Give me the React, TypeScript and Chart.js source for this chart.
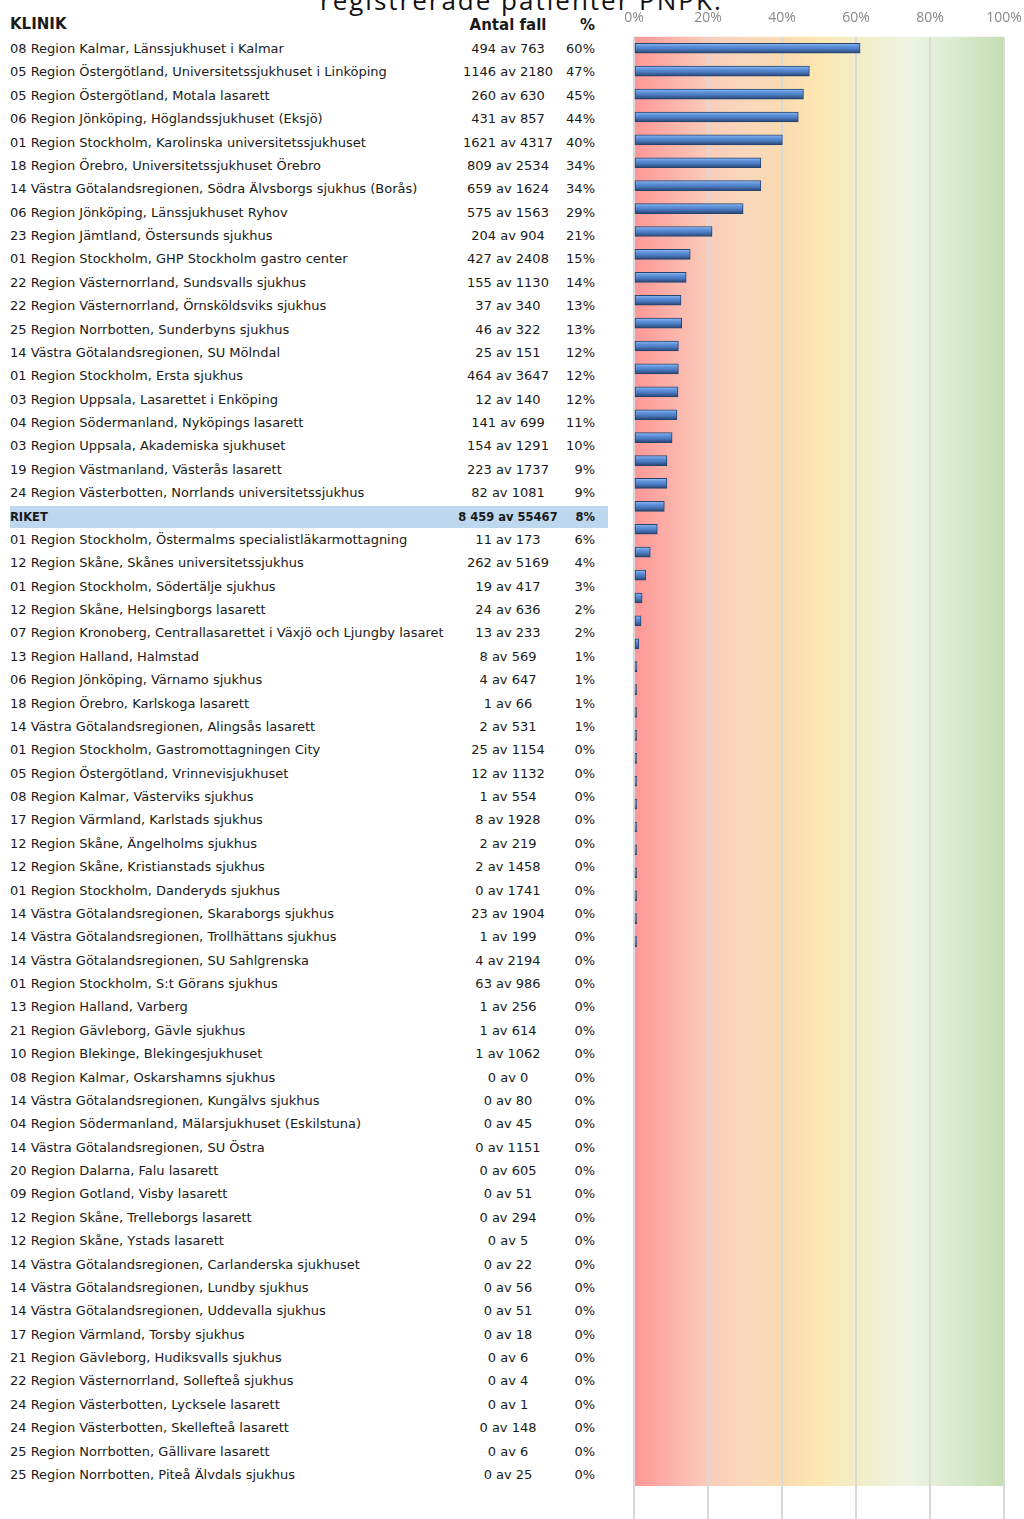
import React, { useEffect, useRef } from "react";
import { Chart, registerables } from "chart.js";
Chart.register(...registerables);

const TITLE = "registrerade patienter PNPK:";
const HEADER_CLINIC = "KLINIK";
const HEADER_COUNT = "Antal fall";
const HEADER_PCT = "%";

const clinics = [
  "08 Region Kalmar, Länssjukhuset i Kalmar",
  "05 Region Östergötland, Universitetssjukhuset i Linköping",
  "05 Region Östergötland, Motala lasarett",
  "06 Region Jönköping, Höglandssjukhuset (Eksjö)",
  "01 Region Stockholm, Karolinska universitetssjukhuset",
  "18 Region Örebro, Universitetssjukhuset Örebro",
  "14 Västra Götalandsregionen, Södra Älvsborgs sjukhus (Borås)",
  "06 Region Jönköping, Länssjukhuset Ryhov",
  "23 Region Jämtland, Östersunds sjukhus",
  "01 Region Stockholm, GHP Stockholm gastro center",
  "22 Region Västernorrland, Sundsvalls sjukhus",
  "22 Region Västernorrland, Örnsköldsviks sjukhus",
  "25 Region Norrbotten, Sunderbyns sjukhus",
  "14 Västra Götalandsregionen, SU Mölndal",
  "01 Region Stockholm, Ersta sjukhus",
  "03 Region Uppsala, Lasarettet i Enköping",
  "04 Region Södermanland, Nyköpings lasarett",
  "03 Region Uppsala, Akademiska sjukhuset",
  "19 Region Västmanland, Västerås lasarett",
  "24 Region Västerbotten, Norrlands universitetssjukhus",
  "RIKET",
  "01 Region Stockholm, Östermalms specialistläkarmottagning",
  "12 Region Skåne, Skånes universitetssjukhus",
  "01 Region Stockholm, Södertälje sjukhus",
  "12 Region Skåne, Helsingborgs lasarett",
  "07 Region Kronoberg, Centrallasarettet i Växjö och Ljungby lasaret",
  "13 Region Halland, Halmstad",
  "06 Region Jönköping, Värnamo sjukhus",
  "18 Region Örebro, Karlskoga lasarett",
  "14 Västra Götalandsregionen, Alingsås lasarett",
  "01 Region Stockholm, Gastromottagningen City",
  "05 Region Östergötland, Vrinnevisjukhuset",
  "08 Region Kalmar, Västerviks sjukhus",
  "17 Region Värmland, Karlstads sjukhus",
  "12 Region Skåne, Ängelholms sjukhus",
  "12 Region Skåne, Kristianstads sjukhus",
  "01 Region Stockholm, Danderyds sjukhus",
  "14 Västra Götalandsregionen, Skaraborgs sjukhus",
  "14 Västra Götalandsregionen, Trollhättans sjukhus",
  "14 Västra Götalandsregionen, SU Sahlgrenska",
  "01 Region Stockholm, S:t Görans sjukhus",
  "13 Region Halland, Varberg",
  "21 Region Gävleborg, Gävle sjukhus",
  "10 Region Blekinge, Blekingesjukhuset",
  "08 Region Kalmar, Oskarshamns sjukhus",
  "14 Västra Götalandsregionen, Kungälvs sjukhus",
  "04 Region Södermanland, Mälarsjukhuset (Eskilstuna)",
  "14 Västra Götalandsregionen, SU Östra",
  "20 Region Dalarna, Falu lasarett",
  "09 Region Gotland, Visby lasarett",
  "12 Region Skåne, Trelleborgs lasarett",
  "12 Region Skåne, Ystads lasarett",
  "14 Västra Götalandsregionen, Carlanderska sjukhuset",
  "14 Västra Götalandsregionen, Lundby sjukhus",
  "14 Västra Götalandsregionen, Uddevalla sjukhus",
  "17 Region Värmland, Torsby sjukhus",
  "21 Region Gävleborg, Hudiksvalls sjukhus",
  "22 Region Västernorrland, Sollefteå sjukhus",
  "24 Region Västerbotten, Lycksele lasarett",
  "24 Region Västerbotten, Skellefteå lasarett",
  "25 Region Norrbotten, Gällivare lasarett",
  "25 Region Norrbotten, Piteå Älvdals sjukhus",
];

const counts = [
  "494 av 763", "1146 av 2180", "260 av 630", "431 av 857", "1621 av 4317",
  "809 av 2534", "659 av 1624", "575 av 1563", "204 av 904", "427 av 2408",
  "155 av 1130", "37 av 340", "46 av 322", "25 av 151", "464 av 3647",
  "12 av 140", "141 av 699", "154 av 1291", "223 av 1737", "82 av 1081",
  "8 459 av 55467",
  "11 av 173", "262 av 5169", "19 av 417", "24 av 636", "13 av 233",
  "8 av 569", "4 av 647", "1 av 66", "2 av 531", "25 av 1154",
  "12 av 1132", "1 av 554", "8 av 1928", "2 av 219", "2 av 1458",
  "0 av 1741", "23 av 1904", "1 av 199", "4 av 2194", "63 av 986",
  "1 av 256", "1 av 614", "1 av 1062", "0 av 0", "0 av 80",
  "0 av 45", "0 av 1151", "0 av 605", "0 av 51", "0 av 294",
  "0 av 5", "0 av 22", "0 av 56", "0 av 51", "0 av 18",
  "0 av 6", "0 av 4", "0 av 1", "0 av 148", "0 av 6", "0 av 25",
];

const pctLabels = [
  "60%", "47%", "45%", "44%", "40%", "34%", "34%", "29%", "21%", "15%",
  "14%", "13%", "13%", "12%", "12%", "12%", "11%", "10%", "9%", "9%",
  "8%",
  "6%", "4%", "3%", "2%", "2%", "1%", "1%", "1%", "1%",
  "0%", "0%", "0%", "0%", "0%", "0%", "0%", "0%", "0%", "0%",
  "0%", "0%", "0%", "0%", "0%", "0%", "0%", "0%", "0%", "0%",
  "0%", "0%", "0%", "0%", "0%", "0%", "0%", "0%", "0%", "0%",
  "0%", "0%",
];

const barValues = [
  61.1, 47.4, 45.8, 44.4, 40.1, 34.3, 34.3, 29.5, 21.1, 15.2,
  14.1, 12.7, 12.9, 12.0, 12.0, 11.9, 11.6, 10.3, 8.9, 8.9,
  8.2,
  6.3, 4.4, 3.2, 2.2, 1.9, 1.3, 0.8, 0.7, 0.7,
  0.7, 0.7, 0.7, 0.7, 0.7, 0.7, 0.7, 0.7, 0.7, 0.7,
  0, 0, 0, 0, 0, 0, 0, 0, 0, 0,
  0, 0, 0, 0, 0, 0, 0, 0, 0, 0,
  0, 0,
];

const X_TICKS = [0, 20, 40, 60, 80, 100];
const HIGHLIGHT = "RIKET";

const ROW_FIRST_Y = 49;
const ROW_STEP = 23.377;
const FONT = "'DejaVu Sans', sans-serif";
const TICK_FONT = "'Open Sans', 'DejaVu Sans', sans-serif";

const gradientPlugin = {
  id: "bgGradient",
  beforeDraw(chart: any) {
    const { ctx, chartArea, scales } = chart;
    const x0 = scales.x.getPixelForValue(0);
    const x1 = scales.x.getPixelForValue(100);
    const yBottom = scales.y.getPixelForValue(clinics.length + 0.77);
    if (![x0, x1, yBottom].every(Number.isFinite)) return;
    const g = ctx.createLinearGradient(x0, 0, x1, 0);
    g.addColorStop(0, "#ff9797");
    g.addColorStop(0.2, "#f9ccba");
    g.addColorStop(0.3, "#f9d7bb");
    g.addColorStop(0.41, "#fbdcb0");
    g.addColorStop(0.5, "#fde7b1");
    g.addColorStop(0.6, "#f2edc8");
    g.addColorStop(0.75, "#eef4e3");
    g.addColorStop(0.88, "#d8e9cc");
    g.addColorStop(1, "#c5deb3");
    ctx.save();
    ctx.fillStyle = g;
    ctx.fillRect(x0, chartArea.top, x1 - x0, yBottom - chartArea.top);
    ctx.restore();
  },
};

function BarChart() {
  const ref = useRef<HTMLCanvasElement>(null);
  useEffect(() => {
    if (!ref.current) return;
    const data = barValues.map((v, i) => ({ x: v, y: i }));
    const chart = new Chart(ref.current, {
      type: "bar",
      data: {
        datasets: [
          {
            data,
            barThickness: 10,
            borderWidth: 1,
            borderColor: "#27446d",
            borderSkipped: false,
            backgroundColor: (c: any) => {
              const chartObj = c.chart;
              const ys = chartObj.scales && chartObj.scales.y;
              if (!ys || c.dataIndex === undefined) return "#4f81bd";
              const yc = ys.getPixelForValue(c.dataIndex);
              if (!Number.isFinite(yc)) return "#4f81bd";
              const g = chartObj.ctx.createLinearGradient(0, yc - 5, 0, yc + 5);
              g.addColorStop(0, "#95bcf0");
              g.addColorStop(0.3, "#5f93dc");
              g.addColorStop(0.6, "#4a79bf");
              g.addColorStop(1, "#27436f");
              return g;
            },
          } as any,
        ],
      },
      options: {
        indexAxis: "y",
        responsive: false,
        animation: false,
        devicePixelRatio: 1,
        layout: { padding: { left: 34, right: 20, top: 0, bottom: 0 } },
        plugins: { legend: { display: false }, tooltip: { enabled: false } },
        scales: {
          x: {
            type: "linear",
            position: "top",
            min: 0,
            max: 100,
            afterBuildTicks: (axis: any) => {
              axis.ticks = X_TICKS.map((v) => ({ value: v }));
            },
            afterFit: (axis: any) => {
              axis.paddingLeft = 0;
              axis.paddingRight = 0;
            },
            ticks: {
              callback: (v: any) => v + "%",
              color: "#888888",
              font: { family: TICK_FONT, size: 14 },
              padding: 10,
            },
            grid: { color: "#d9d9d9", lineWidth: 2, drawTicks: false },
            border: { display: false },
          },
          y: {
            type: "linear",
            reverse: true,
            offset: false,
            min: -0.5,
            max: 64.21,
            display: false,
            grid: { offset: false },
          },
        },
      } as any,
      plugins: [gradientPlugin],
    });
    return () => chart.destroy();
  }, []);
  return (
    <canvas
      ref={ref}
      width={424}
      height={1519}
      style={{ position: "absolute", left: 600, top: 0, width: 424, height: 1519 }}
    />
  );
}

export default function App() {
  return (
    <div
      style={{
        position: "fixed",
        left: 0,
        top: 0,
        width: 1024,
        height: 1519,
        overflow: "hidden",
        background: "#fff",
        fontFamily: FONT,
        color: "#1a1a1a",
      }}
    >
      <div
        style={{
          position: "absolute",
          left: 320,
          top: -17,
          fontSize: 26,
          lineHeight: "34px",
          whiteSpace: "nowrap",
          color: "#111",
          fontFamily: TICK_FONT,
          letterSpacing: 2,
        }}
      >
        {TITLE}
      </div>
      <div style={{ position: "absolute", left: 10, top: 14, fontSize: 15, fontWeight: 700, lineHeight: "20px" }}>
        {HEADER_CLINIC}
      </div>
      <div
        style={{
          position: "absolute",
          left: 448,
          width: 120,
          textAlign: "center",
          top: 15,
          fontSize: 15,
          fontWeight: 700,
          lineHeight: "20px",
        }}
      >
        {HEADER_COUNT}
      </div>
      <div
        style={{
          position: "absolute",
          left: 545,
          width: 50,
          textAlign: "right",
          top: 15,
          fontSize: 15,
          fontWeight: 700,
          lineHeight: "20px",
        }}
      >
        {HEADER_PCT}
      </div>
      {clinics.map((name, i) => {
        const yc = ROW_FIRST_Y + i * ROW_STEP;
        const hl = name === HIGHLIGHT;
        const common: any = {
          position: "absolute",
          top: yc - 8,
          lineHeight: "16px",
          fontSize: hl ? 11.5 : 13,
          fontWeight: hl ? 700 : 400,
          whiteSpace: "nowrap",
        };
        return (
          <React.Fragment key={i}>
            {hl && (
              <div
                style={{
                  position: "absolute",
                  left: 10,
                  top: yc - 11,
                  width: 598,
                  height: 22,
                  background: "#bdd7ee",
                }}
              />
            )}
            <div style={{ ...common, left: 10 }}>{name}</div>
            <div style={{ ...common, left: 448, width: 120, textAlign: "center" }}>{counts[i]}</div>
            <div style={{ ...common, left: 545, width: 50, textAlign: "right" }}>{pctLabels[i]}</div>
          </React.Fragment>
        );
      })}
      <BarChart />
    </div>
  );
}
